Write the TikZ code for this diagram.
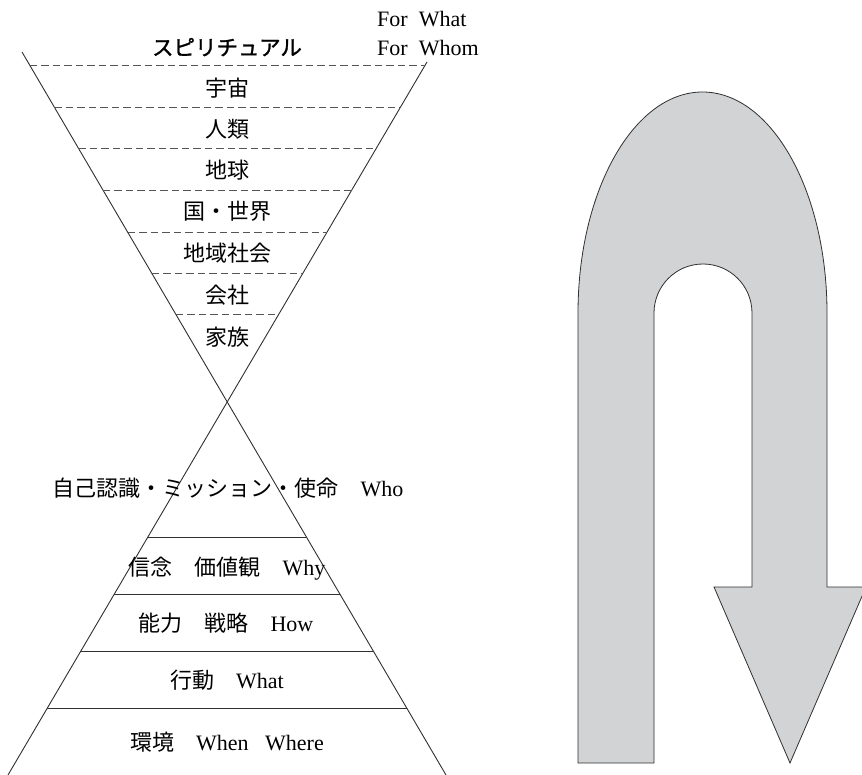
\documentclass[tikz,border=0pt]{standalone}
\usepackage{fontspec}
\setmainfont{Liberation Serif}
\newfontfamily\jp{Noto Sans CJK JP}
\newfontfamily\jpb[FakeBold=1.2]{Noto Sans CJK JP}
\usetikzlibrary{calc}
\definecolor{arrowfill}{HTML}{D1D3D4}
\definecolor{linegray}{HTML}{303030}
\definecolor{dashgray}{HTML}{555555}
\begin{document}
\begin{tikzpicture}[x=1pt,y=-1pt,
  lbl/.style={inner sep=0pt, font=\fontsize{22}{24}\selectfont, text height=19.4pt, text depth=2.6pt},
  hgline/.style={draw=linegray, line width=0.9pt},
  dashline/.style={draw=dashgray, line width=0.9pt, dash pattern=on 7.5pt off 4pt},
  solidline/.style={draw=linegray, line width=0.9pt},
  uarrow/.style={fill=arrowfill, draw=linegray, line width=0.8pt, line join=miter}]
\useasboundingbox (0,0) rectangle (862,775);
\fill[white] (0,0) rectangle (862,775);

% hourglass
\coordinate (TL) at (22,52);
\coordinate (BR) at (446,775);
\coordinate (TR) at (427,62);
\coordinate (BL) at (8,775);
\draw[hgline] (TL) -- (BR);
\draw[hgline] (TR) -- (BL);

% dashed separators (upper part)
\foreach \yy in {65,107,148,190,232,273,314}{
  \pgfmathsetmacro{\xa}{22+(\yy-52)*0.58645}
  \pgfmathsetmacro{\xb}{427-(\yy-62)*0.58766}
  \draw[dashline] (\xa,\yy) -- (\xb,\yy);
}
% solid separators (lower part)
\foreach \yy in {537,594,651,708}{
  \pgfmathsetmacro{\xa}{22+(\yy-52)*0.58645}
  \pgfmathsetmacro{\xb}{427-(\yy-62)*0.58766}
  \draw[solidline] (\xa,\yy) -- (\xb,\yy);
}

% labels upper
\node[lbl] (spi) at (227,47) {\jpb\fontsize{21.5}{24}\selectfont スピリチュアル};
\node[lbl, anchor=west] (forwhat) at (377,18) {For\ \ What};
\node[lbl, anchor=west] (forwhom) at (377,47) {For\ \ Whom};
\node[lbl] (uchu) at (227,88) {\jp 宇宙};
\node[lbl] (jinrui) at (227,129) {\jp 人類};
\node[lbl] (chikyu) at (227,170) {\jp 地球};
\node[lbl] (kuni) at (227,211) {\jp 国・世界};
\node[lbl] (chiiki) at (227,253) {\jp 地域社会};
\node[lbl] (kaisha) at (227,295) {\jp 会社};
\node[lbl] (kazoku) at (227,337) {\jp 家族};

% labels lower
\node[lbl] (who) at (228,488) {{\jp 自己認識・ミッション・使命　}Who};
\node[lbl] (why) at (227,567) {{\jp 信念　価値観　}Why};
\node[lbl] (how) at (226,623) {{\jp 能力　戦略　}How};
\node[lbl] (what) at (227,680) {{\jp 行動　}What};
\node[lbl] (where) at (227,742) {{\jp 環境　}When\ \ \ Where};

% U-turn arrow
\path[uarrow] (578,763) -- (578,313)
  arc[start angle=180, end angle=0, x radius=124.5pt, y radius=221pt]
  -- (827,587) -- (866,587) -- (790,763) -- (714,587) -- (752,587) -- (752,313)
  arc[start angle=0, end angle=180, radius=49pt]
  -- (654,763) -- cycle;
\end{tikzpicture}
\end{document}
